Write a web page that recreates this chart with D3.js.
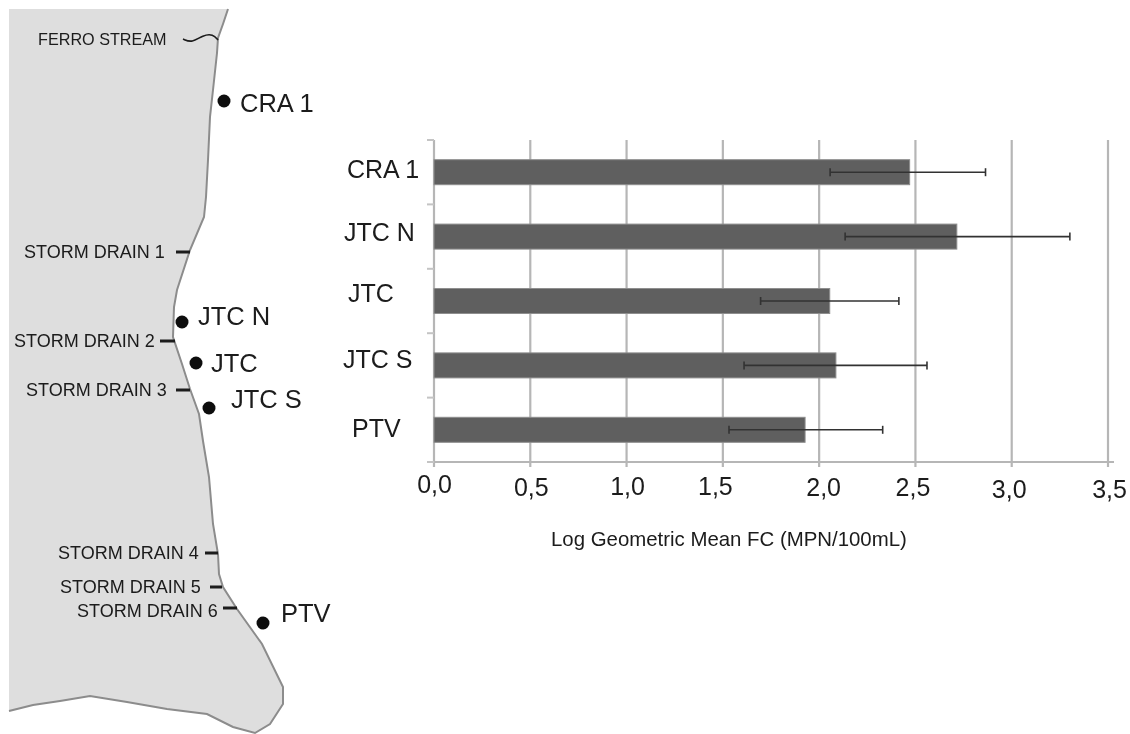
<!DOCTYPE html>
<html>
<head>
<meta charset="utf-8">
<script src="https://cdn.jsdelivr.net/npm/d3@7"></script>
<style>
    html, body { margin: 0; padding: 0; background: #fff; }
    text { font-family: "Liberation Sans", Arial, sans-serif; fill: #1a1a1a; }
</style>
</head>
<body>
<div id="diagram_area"></div>
<script>
// values
var sites = ["CRA 1", "JTC N", "JTC", "JTC S", "PTV"];
var means = [2.47, 2.715, 2.055, 2.087, 1.927];
var errLow = [2.057, 2.135, 1.696, 1.61, 1.532];
var errHigh = [2.864, 3.302, 2.414, 2.56, 2.33];
var xTicks = [0, 0.5, 1, 1.5, 2, 2.5, 3, 3.5];

// map of the coast, in picture pixels
var coast = [[228,9],[223,24],[218,38],[217,53],[213,90],[210,117],[208,160],[206,197],[204,217],[190,250],
    [177,290],[174,307],[173,337],[182,364],[190,389],[199,414],[203,441],[209,477],[213,524],[218,554],
    [219,574],[223,587],[237,609],[262,644],[283,687],[283,704],[270,724],[255,733],[233,727],[207,714],
    [167,709],[127,702],[90,696],[60,701],[33,705],[9,711]];
var stream = [[183,39],[192,43],[203,35],[213,34],[218,40]];
var siteDots = [[224,101],[182,322],[196,363],[209,408],[263,623]];
var siteLabels = [[240,112],[198,325],[211,372],[231,408],[281,622]];
var drainNames = ["STORM DRAIN 1", "STORM DRAIN 2", "STORM DRAIN 3", "STORM DRAIN 4", "STORM DRAIN 5", "STORM DRAIN 6"];
var drainTicks = [[176,190,252],[160,175,341],[176,190,390],[205,218,553],[210,222,587],[223,237,608]];
var drainLabels = [[24,258],[14,347],[26,396],[58,559],[60,593],[77,617]];

var svg = d3.select("#diagram_area").append("svg")
    .attr("width", 1130)
    .attr("height", 734)
    .style("display", "block");

// the original is a slightly soft scan
var blur = svg.append("defs").append("filter").attr("id", "soft");
blur.append("feGaussianBlur").attr("stdDeviation", 0.55);

var root = svg.append("g").attr("filter", "url(#soft)");

// ---- map ----
var map = root.append("g");
var line = d3.line();

map.append("path")
    .attr("d", line(coast.concat([[9,9]])) + "Z")
    .attr("fill", "#dedede");

map.append("path")
    .attr("d", line(coast))
    .attr("fill", "none")
    .attr("stroke", "#8c8c8c")
    .attr("stroke-width", 2);

map.append("path")
    .attr("d", d3.line().curve(d3.curveBasis)(stream))
    .attr("fill", "none")
    .attr("stroke", "#1a1a1a")
    .attr("stroke-width", 1.6);

map.append("text")
    .attr("x", 38).attr("y", 45)
    .attr("font-size", 16.2)
    .text("FERRO STREAM");

map.selectAll("line.drain")
    .data(drainTicks)
    .enter().append("line")
    .attr("class", "drain")
    .attr("x1", function(d) { return d[0]; })
    .attr("x2", function(d) { return d[1]; })
    .attr("y1", function(d) { return d[2]; })
    .attr("y2", function(d) { return d[2]; })
    .attr("stroke", "#1a1a1a")
    .attr("stroke-width", 3);

map.selectAll("text.drain")
    .data(drainNames)
    .enter().append("text")
    .attr("class", "drain")
    .attr("x", function(d, i) { return drainLabels[i][0]; })
    .attr("y", function(d, i) { return drainLabels[i][1]; })
    .attr("font-size", 18)
    .text(function(d) { return d; });

map.selectAll("circle")
    .data(siteDots)
    .enter().append("circle")
    .attr("cx", function(d) { return d[0]; })
    .attr("cy", function(d) { return d[1]; })
    .attr("r", 6.5)
    .attr("fill", "#111");

map.selectAll("text.site")
    .data(sites)
    .enter().append("text")
    .attr("class", "site")
    .attr("x", function(d, i) { return siteLabels[i][0]; })
    .attr("y", function(d, i) { return siteLabels[i][1]; })
    .attr("font-size", 25.5)
    .text(function(d) { return d; });

// ---- bar chart ----
var x = d3.scaleLinear().domain([0, 3.5]).range([434, 1108]);
var y = d3.scaleBand().domain(sites).range([140, 462]);
var barHeight = 25;
var gridColor = "#b6b6b6";

var chart = root.append("g");

// gridlines
chart.selectAll("line.grid")
    .data(xTicks)
    .enter().append("line")
    .attr("class", "grid")
    .attr("x1", function(d) { return x(d); })
    .attr("x2", function(d) { return x(d); })
    .attr("y1", y.range()[0])
    .attr("y2", y.range()[1] + 5)
    .attr("stroke", gridColor)
    .attr("stroke-width", 2.2);

// x axis, labels were placed by hand in the original
var xNudge = [0, 0.5, 0.5, -8, 4, -3, -3, 1];
var yNudge = [0, 3, 2, 2, 3, 3, 5, 5];
var xAxis = d3.axisBottom(x)
    .tickValues(xTicks)
    .tickSize(0)
    .tickPadding(0)
    .tickFormat(function(d) { return d3.format(".1f")(d).replace(".", ","); });

var xg = chart.append("g")
    .attr("transform", "translate(0," + y.range()[1] + ")")
    .call(xAxis);
xg.select(".domain").remove();
xg.selectAll("text")
    .attr("font-size", 25)
    .attr("dy", null)
    .attr("y", function(d, i) { return 31 + yNudge[i]; })
    .attr("x", function(d, i) { return xNudge[i]; });

chart.append("line")
    .attr("x1", 428).attr("x2", 1114)
    .attr("y1", y.range()[1]).attr("y2", y.range()[1])
    .attr("stroke", gridColor)
    .attr("stroke-width", 2.2);

// category ticks sit between the bars
var edges = sites.map(function(d) { return y(d); }).concat([y.range()[1]]);
chart.selectAll("line.cat")
    .data(edges)
    .enter().append("line")
    .attr("class", "cat")
    .attr("x1", 427).attr("x2", 434)
    .attr("y1", function(d) { return d; })
    .attr("y2", function(d) { return d; })
    .attr("stroke", "#c4c4c4")
    .attr("stroke-width", 2);

// bars
chart.selectAll("rect")
    .data(sites)
    .enter().append("rect")
    .attr("x", x(0))
    .attr("y", function(d) { return y(d) + y.bandwidth() / 2 - barHeight / 2; })
    .attr("width", function(d, i) { return x(means[i]) - x(0); })
    .attr("height", barHeight)
    .attr("fill", "#5e5e5e")
    .attr("stroke", "#8e8e8e")
    .attr("stroke-width", 1);

// error bars
var errs = chart.selectAll("g.err")
    .data(sites)
    .enter().append("g")
    .attr("class", "err")
    .attr("transform", function(d) { return "translate(0," + (y(d) + y.bandwidth() / 2) + ")"; })
    .attr("stroke", "#333")
    .attr("stroke-width", 1.6);

errs.append("line")
    .attr("x1", function(d, i) { return x(errLow[i]); })
    .attr("x2", function(d, i) { return x(errHigh[i]); });
errs.append("line")
    .attr("x1", function(d, i) { return x(errLow[i]); })
    .attr("x2", function(d, i) { return x(errLow[i]); })
    .attr("y1", -4).attr("y2", 4);
errs.append("line")
    .attr("x1", function(d, i) { return x(errHigh[i]); })
    .attr("x2", function(d, i) { return x(errHigh[i]); })
    .attr("y1", -4).attr("y2", 4);

// category labels, also hand placed
var catX = [347, 344, 348, 343, 352];
var catY = [178, 241, 302, 368, 437];
chart.selectAll("text.cat")
    .data(sites)
    .enter().append("text")
    .attr("class", "cat")
    .attr("x", function(d, i) { return catX[i]; })
    .attr("y", function(d, i) { return catY[i]; })
    .attr("font-size", 25)
    .text(function(d) { return d; });

chart.append("text")
    .attr("x", 551).attr("y", 546)
    .attr("font-size", 20.4)
    .text("Log Geometric Mean FC (MPN/100mL)");
</script>
</body>
</html>
